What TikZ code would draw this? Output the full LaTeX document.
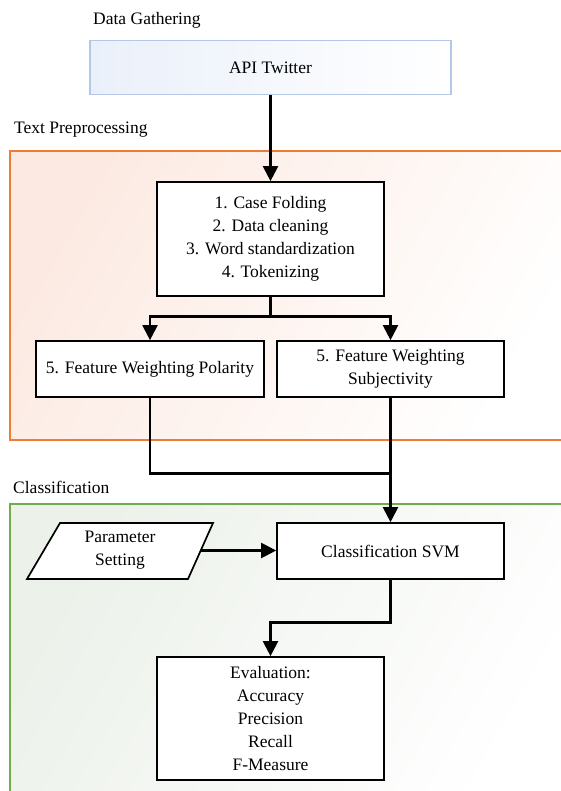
\documentclass[tikz,border=0pt]{standalone}
\usepackage{fontspec}
\setmainfont{Liberation Serif}
\usetikzlibrary{arrows.meta}

\definecolor{frameorange}{RGB}{237,125,49}
\definecolor{framegreen}{RGB}{112,173,71}
\definecolor{apiblue}{RGB}{180,199,231}

\tikzset{
  txt/.style={font=\fontsize{17.5}{23}\selectfont, align=center, inner sep=0pt},
  stepbox/.style={txt, draw=black, line width=1.7pt, fill=white},
  conn/.style={line width=2.2pt, black},
  arr/.style={conn, -{Triangle[length=15pt,width=15pt]}},
  grouplabel/.style={txt, anchor=west},
}

\begin{document}
\begin{tikzpicture}[x=1pt, y=-1pt]
\useasboundingbox (0,0) rectangle (561,791);
\clip (0,0) rectangle (561,791);

% group frames
\shade[top color={rgb,255:red,252;green,234;blue,226}, bottom color=white, shading angle=60]
  (10,151) rectangle (575,440);
\draw[frameorange, line width=1.6pt] (10,151) rectangle (575,440);
\shade[top color={rgb,255:red,236;green,241;blue,234}, bottom color=white, shading angle=60]
  (10,504) rectangle (575,805);
\draw[framegreen, line width=1.6pt] (10,504) rectangle (575,805);

% group labels
\node[grouplabel] (lgather) at (93,20) {Data Gathering};
\node[grouplabel] (lprep) at (14,130) {Text Preprocessing};
\node[grouplabel] (lclass) at (13,487) {Classification};

% data source
\node[txt, draw=apiblue, line width=1.5pt,
      left color={rgb,255:red,234;green,240;blue,250}, right color=white,
      minimum width=361pt, minimum height=54pt] (api) at (270.5,67.5) {API Twitter};

% preprocessing steps
\node[stepbox, minimum width=227pt, minimum height=114pt] (pre) at (270.5,239)
  {1. Case Folding\\2. Data cleaning\\3. Word standardization\\4. Tokenizing};
\node[stepbox, minimum width=228pt, minimum height=56pt] (pol) at (150,369)
  {5. Feature Weighting Polarity};
\node[stepbox, minimum width=227pt, minimum height=56pt] (subj) at (390.5,369)
  {5. Feature Weighting\\Subjectivity};

% classification
\node[stepbox, minimum width=227pt, minimum height=56pt] (svm) at (390.5,551)
  {Classification SVM};
\draw[line width=1.7pt, fill=white] (60,523) -- (213,523) -- (188,579) -- (27,579) -- cycle;
\node[txt] (param) at (120,550) {Parameter\\Setting};
\coordinate (paramR) at (200.5,550.5);
\node[stepbox, minimum width=227pt, minimum height=123pt] (eval) at (270.5,718.5)
  {Evaluation:\\Accuracy\\Precision\\Recall\\F-Measure};

% connectors
\coordinate (split) at (270.5,316.5);
\coordinate (join) at (390.5,473.5);
\coordinate (bend) at (390.5,622.5);
\draw[arr] (api.south) -- (pre.north);
\draw[conn] (pre.south) -- (split);
\draw[arr] (split) -| (pol.north);
\draw[arr] (split) -| (subj.north);
\draw[conn] (pol.south) |- (join);
\draw[arr] (subj.south) -- (svm.north);
\draw[arr] (paramR) -- (paramR -| svm.west);
\draw[arr] (svm.south) -- (bend) -| (eval.north);
\end{tikzpicture}
\end{document}
